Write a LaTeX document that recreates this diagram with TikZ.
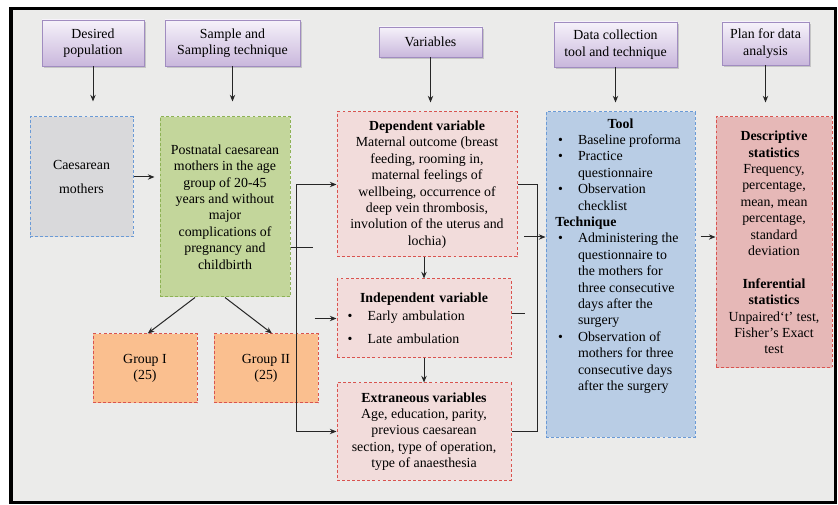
\documentclass[tikz,border=0pt]{standalone}
\usepackage{fontspec}
\setmainfont{Liberation Serif}
\usepackage{tikz}
\usetikzlibrary{arrows.meta, shadows}
\definecolor{bgtex}{HTML}{EBEBEA}
\definecolor{hdtop}{HTML}{F6F2FA}
\definecolor{hdbot}{HTML}{C9B7DC}
\definecolor{hdline}{HTML}{A08CC0}
\definecolor{cgrey}{HTML}{D9D9DB}
\definecolor{cblue}{HTML}{6A9AD6}
\definecolor{cgreen}{HTML}{C3D69B}
\definecolor{cgreenline}{HTML}{8DB255}
\definecolor{corange}{HTML}{FABF8F}
\definecolor{cred}{HTML}{D9534F}
\definecolor{cpink}{HTML}{F2DCDB}
\definecolor{ctool}{HTML}{B9CDE5}
\definecolor{cana}{HTML}{E6B8B7}
\newcommand{\boxfont}{\fontsize{10.4}{12.3}\selectfont}
\newcommand{\bitem}[1]{\par\hangindent=21pt\hangafter=1\noindent\hbox to 21pt{\hskip6pt\textbullet\hfil}#1\par}
\tikzset{
  headbox/.style={draw=hdline, line width=0.5pt, top color=hdtop, bottom color=hdbot,
    align=center, font=\boxfont, inner sep=1pt,
    drop shadow={opacity=0.35, shadow xshift=1.5pt, shadow yshift=-1.5pt}},
  dashbox/.style={dash pattern=on 2.2pt off 1.6pt, line width=0.75pt, align=center,
    font=\boxfont, inner sep=2pt},
  arr/.style={-{Stealth[length=5pt, width=4pt]}, line width=0.75pt, black!85},
  link/.style={line width=0.6pt, black!85}
}
\begin{document}
\begin{tikzpicture}[x=0.75pt, y=-0.75pt]
\useasboundingbox (0,0) rectangle (838,505);
\fill[white] (0,0) rectangle (838,505);
\draw[line width=2.4pt, fill=bgtex] (11,8.5) rectangle (835.5,502.5);

\node[headbox, minimum width=76.5pt, minimum height=34.5pt] (hpop) at (93,43) {Desired\\population};
\node[headbox, minimum width=101.25pt, minimum height=34.5pt] (hsam) at (232.5,43) {Sample and\\Sampling technique};
\node[headbox, minimum width=77.25pt, minimum height=22.5pt] (hvar) at (430.5,42) {Variables};
\node[headbox, minimum width=92.25pt, minimum height=33.75pt] (hdat) at (615.5,44.5) {Data collection\\tool and technique};
\node[headbox, minimum width=65.25pt, minimum height=32.25pt] (hplan) at (765.5,43.5) {Plan for data\\analysis};

\node[dashbox, fill=cgrey, draw=cblue, minimum width=77.25pt, minimum height=90pt] (caes) at (81.5,177)
  {Caesarean\\[5.5pt]mothers};
\node[dashbox, fill=cgreen, draw=cgreenline, minimum width=97.5pt, minimum height=135pt] (post) at (225,207)
  {Postnatal caesarean\\mothers in the age\\group of 20-45\\years and without\\major\\complications of\\pregnancy and\\childbirth};
\node[dashbox, fill=corange, draw=cred, minimum width=78pt, minimum height=51.75pt] (g1) at (145,368.5)
  {Group I\\(25)};
\node[dashbox, fill=corange, draw=cred, minimum width=78pt, minimum height=51.75pt] (g2) at (266,368.5)
  {Group II\\(25)};

\node[dashbox, fill=cpink, draw=cred, minimum width=135pt, minimum height=108.75pt] (dep) at (427,184.5)
  {\textbf{Dependent variable}\\Maternal outcome (breast\\feeding, rooming in,\\maternal feelings of\\wellbeing, occurrence of\\deep vein thrombosis,\\involution of the uterus and\\lochia)};
\node[dashbox, fill=cpink, draw=cred, align=left, text width=126.5pt, minimum height=59.25pt] (ind) at (424,318.5)
  {{\centering\textbf{Independent variable}\par}\vspace{1pt}
   \bitem{Early ambulation}\vspace{5.5pt}\bitem{Late ambulation}};
\node[dashbox, fill=cpink, draw=cred, minimum width=130.5pt, minimum height=72.75pt] (ext) at (424,431.5)
  {\textbf{Extraneous variables}\\Age, education, parity,\\previous caesarean\\section, type of operation,\\type of anaesthesia};

\node[dashbox, fill=ctool, draw=cblue, inner sep=3pt, minimum width=111.75pt, minimum height=243.75pt] (tool) at (620.5,274.5)
  {\parbox[c][237pt][t]{105.75pt}{\raggedright\vspace*{1.5pt}
   {\centering\textbf{Tool}\par}
   \bitem{Baseline proforma}
   \bitem{Practice\newline questionnaire}
   \bitem{Observation\newline checklist}
   \hspace*{4pt}\textbf{Technique}\par
   \bitem{Administering the\newline questionnaire to\newline the mothers for\newline three consecutive\newline days after the\newline surgery}
   \bitem{Observation of\newline mothers for three\newline consecutive days\newline after the surgery}}};
\node[dashbox, fill=cana, draw=cred, minimum width=87pt, minimum height=188.25pt] (ana) at (774,242.5)
  {\textbf{Descriptive}\\\textbf{statistics}\\Frequency,\\percentage,\\mean, mean\\percentage,\\standard\\deviation\\[12.3pt]\textbf{Inferential}\\\textbf{statistics}\\Unpaired‘t’ test,\\Fisher’s Exact\\test};

\draw[arr, shorten >=11.25pt] (hpop.south) -- (hpop.south |- caes.north);
\draw[arr, shorten >=11.25pt] (hsam.south) -- (hsam.south |- post.north);
\draw[arr, shorten >=6.75pt] (hvar.south) -- (hvar.south |- dep.north);
\draw[arr, shorten >=6.75pt] (hdat.south) -- (hdat.south |- tool.north);
\draw[arr, shorten >=10.5pt] (hplan.south) -- (hplan.south |- ana.north);

\draw[arr, shorten >=3.75pt] (caes.east) -- (caes.east -| post.west);
\draw[arr] ([xshift=-22.5pt]post.south) -- ([xshift=2pt]g1.north);
\draw[arr] (post.south) -- ([xshift=4.5pt]g2.north);

\coordinate (jL) at (296,247);
\draw[link] (jL -| post.east) -- ++(22,0);
\draw[link] (jL |- dep.west) -- (jL |- ext.west);
\draw[arr] (jL |- dep.west) -- (dep.west);
\draw[arr] (jL |- ext.west) -- (ext.west);
\draw[arr] ([xshift=-16.5pt]ind.west) -- (ind.west);

\draw[arr] (ind.north |- dep.south) -- (ind.north);
\draw[arr] (ind.south) -- (ext.north);

\coordinate (jR) at (537,237);
\draw[link] (dep.east) -- (dep.east -| jR) -- (jR |- ext.east) -- (ext.east);
\draw[link] ([yshift=4pt]ind.east) -- ++(13,0);
\draw[arr] ([xshift=-9.75pt]jR) -- (jR -| tool.west);
\draw[arr, shorten <=3.75pt] (jR -| tool.east) -- (jR -| ana.west);
\end{tikzpicture}
\end{document}
